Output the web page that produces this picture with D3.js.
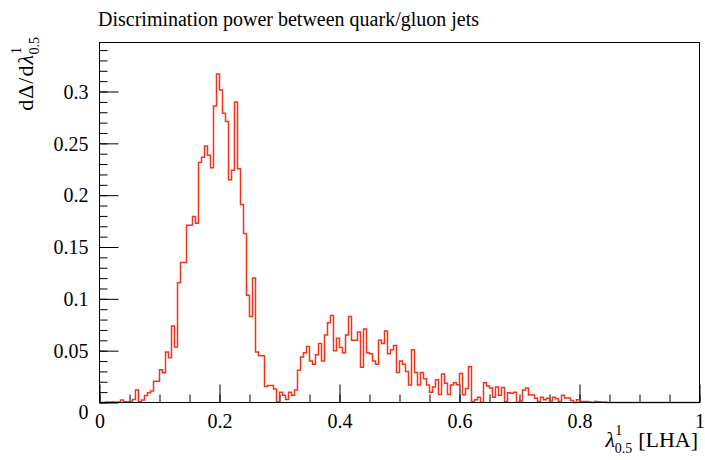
<!DOCTYPE html>
<html>
<head>
<meta charset="UTF-8">
<script src="https://d3js.org/d3.v7.min.js"></script>
<style>
  body { margin: 0; background: #fff; }
  svg { display: block; }
  svg text { font-family: "Liberation Serif", "DejaVu Serif", serif; fill: #000; }
  .tick line { stroke: #000; }
</style>
</head>
<body>
<div id="chart"></div>
<script>
// histogram: 200 bins of width 0.005 on [0, 1]
const binWidth = 0.005;
const dDelta = [
  0, 0, 0.0005, 0.0005, 0.0005, 0.0005, 0.0005, 0.0025, 0.0008, 0.0008,
  0.001, 0.0028, 0.012, 0.001, 0.0025, 0.0067, 0.0095, 0.011, 0.0205, 0.0205,
  0.0315, 0.0288, 0.0487, 0.0432, 0.0738, 0.0535, 0.1155, 0.135, 0.135, 0.171,
  0.171, 0.1795, 0.173, 0.2315, 0.2365, 0.2475, 0.2385, 0.2265, 0.286, 0.317,
  0.3015, 0.279, 0.271, 0.215, 0.224, 0.290, 0.2255, 0.191, 0.163, 0.1035,
  0.083, 0.120, 0.0487, 0.045, 0.045, 0.0155, 0.0165, 0.0165, 0.013, 0.0008,
  0.010, 0.007, 0.003, 0.010, 0.007, 0.012, 0.031, 0.044, 0.048, 0.054,
  0.040, 0.037, 0.046, 0.057, 0.040, 0.065, 0.077, 0.084, 0.050, 0.062,
  0.053, 0.048, 0.065, 0.083, 0.060, 0.060, 0.068, 0.034, 0.071, 0.048,
  0.047, 0.040, 0.037, 0.060, 0.057, 0.069, 0.047, 0.051, 0.055, 0.029,
  0.040, 0.037, 0.030, 0.017, 0.051, 0.029, 0.017, 0.029, 0.023, 0.017,
  0.010, 0.015, 0.022, 0.0077, 0.0275, 0.0185, 0.0077, 0.017, 0.019, 0.0172,
  0.028, 0.0075, 0.0135, 0.0345, 0.001, 0.0027, 0.005, 0.0003, 0.019, 0.016,
  0.014, 0.005, 0.015, 0.007, 0.0145, 0.001, 0.0095, 0.009, 0.0098, 0.0003,
  0.0015, 0.012, 0.014, 0.0072, 0.0072, 0.0042, 0.001, 0.005, 0.0027, 0.0042,
  0.0015, 0.005, 0.0035, 0.001, 0.007, 0.0043, 0.0043, 0.002, 0, 0.0027,
  0.001, 0.001, 0.001, 0.0005, 0, 0.001, 0.0008, 0.0005, 0.0005, 0,
  0, 0, 0, 0, 0, 0, 0, 0, 0, 0,
  0, 0, 0, 0, 0, 0, 0, 0, 0, 0,
  0, 0, 0, 0, 0, 0, 0, 0, 0, 0
];

const xMajor = [0, 0.2, 0.4, 0.6, 0.8, 1];
const xMajorLabels = ["0", "0.2", "0.4", "0.6", "0.8", "1"];
const xMinor = d3.range(0, 1.0001, 0.05);
const yMajor = [0, 0.05, 0.1, 0.15, 0.2, 0.25, 0.3];
const yMajorLabels = ["0", "0.05", "0.1", "0.15", "0.2", "0.25", "0.3"];
const yMinor = d3.range(0, 0.3405, 0.01);

const W = 705, H = 460;
const plotL = 99.5, plotR = 699.5, plotT = 42.5, plotB = 402.5;
const serif = '"Liberation Serif", "DejaVu Serif", serif';

const svg = d3.select("#chart").append("svg")
  .attr("width", W).attr("height", H);

const x = d3.scaleLinear().domain([0, 1]).range([plotL, plotR]);
const y = d3.scaleLinear().domain([0, 0.3473]).range([plotB, plotT]);

// minor ticks (no labels)
svg.append("g")
  .attr("transform", `translate(${plotL},0)`)
  .call(d3.axisLeft(y).tickValues(yMinor).tickSize(-8).tickSizeOuter(0).tickFormat(""))
  .call(g => g.select(".domain").remove());
svg.append("g")
  .attr("transform", `translate(0,${plotB})`)
  .call(d3.axisBottom(x).tickValues(xMinor).tickSize(-8).tickSizeOuter(0).tickFormat(""))
  .call(g => g.select(".domain").remove());

// major ticks with labels
const yAxis = svg.append("g")
  .attr("transform", `translate(${plotL},0)`)
  .call(d3.axisLeft(y).tickValues(yMajor).tickSize(-19).tickSizeOuter(0).tickPadding(11)
    .tickFormat((d, i) => yMajorLabels[i]))
  .call(g => g.select(".domain").remove());
yAxis.selectAll(".tick text")
  .style("font-family", serif).style("font-size", "20px")
  .attr("dy", "0.34em");
yAxis.selectAll(".tick text").filter(d => d === 0).attr("dy", "0.8em");

const xAxis = svg.append("g")
  .attr("transform", `translate(0,${plotB})`)
  .call(d3.axisBottom(x).tickValues(xMajor).tickSize(-18).tickSizeOuter(0).tickPadding(11)
    .tickFormat((d, i) => xMajorLabels[i]))
  .call(g => g.select(".domain").remove());
xAxis.selectAll(".tick text")
  .style("font-family", serif).style("font-size", "20px")
  .attr("dy", "0.7em");

// histogram outline
const pts = dDelta.map((v, i) => [i * binWidth, v]);
pts.push([1, dDelta[dDelta.length - 1]]);
const line = d3.line()
  .x(d => x(d[0]))
  .y(d => y(d[1]))
  .curve(d3.curveStepAfter);
svg.append("path")
  .datum(pts)
  .attr("fill", "none")
  .attr("stroke", "#f5321a")
  .attr("stroke-width", 1.5)
  .attr("d", line);

// frame
svg.append("rect")
  .attr("x", plotL).attr("y", plotT)
  .attr("width", plotR - plotL).attr("height", plotB - plotT)
  .attr("fill", "none").attr("stroke", "#000").attr("stroke-width", 1);

// title
svg.append("text")
  .attr("x", 98).attr("y", 26)
  .style("font-size", "20px")
  .text("Discrimination power between quark/gluon jets");

// x axis label: lambda with stacked super/subscript, then [LHA]
const xlMain = svg.append("text")
  .attr("x", 698).attr("y", 447)
  .attr("text-anchor", "end")
  .style("font-size", "22px")
  .text("[LHA]");
const xlEnd = 698 - xlMain.node().getComputedTextLength() - 6;
svg.append("text")
  .attr("x", xlEnd).attr("y", 453)
  .attr("text-anchor", "end")
  .style("font-size", "14px")
  .text("0.5");
svg.append("text")
  .attr("x", xlEnd - 17).attr("y", 435)
  .attr("text-anchor", "start")
  .style("font-size", "14px")
  .text("1");
svg.append("text")
  .attr("x", xlEnd - 17).attr("y", 447)
  .attr("text-anchor", "end")
  .style("font-size", "22px").style("font-style", "italic")
  .text("λ");

// y axis label (rotated)
const yl = svg.append("g").attr("transform", "translate(33,37) rotate(-90)");
yl.append("text")
  .attr("x", 0).attr("y", 6)
  .attr("text-anchor", "end")
  .style("font-size", "14px")
  .text("0.5");
yl.append("text")
  .attr("x", -17).attr("y", -12)
  .attr("text-anchor", "start")
  .style("font-size", "14px")
  .text("1");
const ylMain = yl.append("text")
  .attr("x", -17).attr("y", 0)
  .attr("text-anchor", "end")
  .style("font-size", "22px")
  .attr("letter-spacing", "1px");
ylMain.append("tspan").text("dΔ/d");
ylMain.append("tspan").style("font-style", "italic").text("λ");
</script>
</body>
</html>
